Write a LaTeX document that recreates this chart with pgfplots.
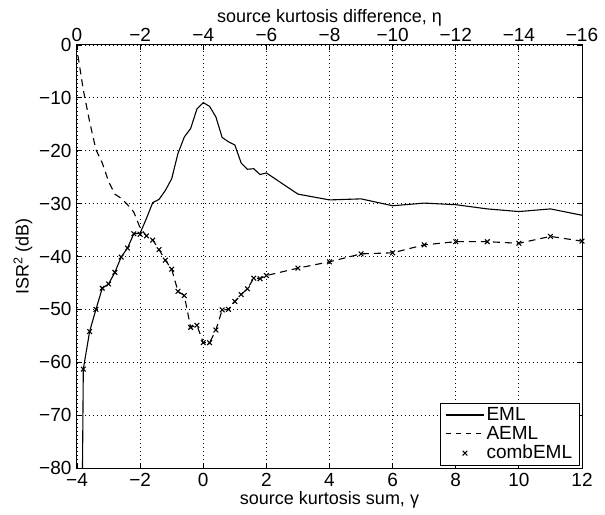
\documentclass[border=0pt]{standalone}
\usepackage{pgfplots}
\pgfplotsset{compat=1.18}
\usepackage{fontspec}
\setmainfont{Liberation Sans}
\pgfplotsset{
 lineleg/.style={legend image code/.code={\draw[##1] (0pt,0pt) -- (38pt,0pt);}},
 dashleg/.style={legend image code/.code={\draw[##1, dash pattern=on 5pt off 5pt] (0pt,0pt) -- (38pt,0pt);}},
 markleg/.style={legend image code/.code={\draw[mark repeat=2,mark phase=2,##1] plot coordinates {(0pt,0pt) (19pt,0pt) (38pt,0pt)};}},
}
\begin{document}
\fontsize{19}{22}\selectfont
\begin{tikzpicture}
\begin{axis}[
  name=ax,
  scale only axis, width=505pt, height=423pt,
  xmin=-4, xmax=12, ymin=-80, ymax=0,
  xtick={-4,-2,...,12}, ytick={-80,-70,...,0},
  xticklabels={−4,−2,0,2,4,6,8,10,12},
  yticklabels={−80,−70,−60,−50,−40,−30,−20,−10,0},
  xtick pos=bottom, ytick pos=both,
  tick align=inside, major tick length=5pt,
  grid=major, major grid style={black, line width=0.8pt, dash pattern=on 1pt off 3pt},
  axis line style={line width=1pt},
  every tick/.style={black, line width=0.8pt},
  tick label style={font=\fontsize{19}{22}\selectfont},
  label style={font=\fontsize{18}{21}\selectfont},
  xticklabel style={yshift=1pt},
  yticklabel style={xshift=1pt},
  xlabel={source kurtosis sum, γ},
  ylabel={ISR\textsuperscript{2} (dB)},
  xlabel style={yshift=8pt},
  ylabel style={yshift=-6pt},
  legend style={at={(0.995,0.005)}, anchor=south east, draw=black, line width=0.8pt, fill=white,
    font=\fontsize{19}{22}\selectfont, row sep=-1pt, inner xsep=5pt, inner ysep=2pt},
  legend cell align=left,
]
\addplot[black, line width=1.1pt, lineleg] coordinates {
(-3.84,-90) (-3.8,-61.3) (-3.6,-54.2) (-3.4,-50.0) (-3.2,-46.0) (-3.0,-45.2) (-2.8,-43.0)
(-2.6,-40.1) (-2.4,-38.4) (-2.2,-35.7) (-2.0,-35.6) (-1.8,-32.8) (-1.6,-29.8) (-1.4,-29.2)
(-1.2,-27.5) (-1.0,-25.3) (-0.8,-20.5) (-0.6,-17.4) (-0.4,-15.8) (-0.2,-12.1) (0.0,-10.9)
(0.2,-11.6) (0.4,-13.6) (0.6,-17.5) (0.8,-18.3) (1.0,-18.9) (1.2,-22.3) (1.4,-23.5)
(1.6,-23.4) (1.8,-24.5) (2.0,-24.2) (3.0,-28.2) (4.0,-29.3) (5.0,-29.1) (6.0,-30.4)
(7.0,-29.9) (8.0,-30.2) (9.0,-31.0) (10.0,-31.5) (11.0,-31.0) (12.0,-32.2)};
\addlegendentry{EML}
\addplot[black, line width=1.1pt, dash pattern=on 7pt off 5pt, dashleg] coordinates {
(-3.97,-2) (-3.8,-8.5) (-3.6,-14.5) (-3.4,-19.8) (-3.2,-22.3) (-3.0,-25.8) (-2.8,-28.2)
(-2.6,-29.0) (-2.4,-30.2) (-2.2,-31.6) (-2.0,-34.6) (-1.8,-36.1) (-1.6,-36.9) (-1.4,-38.7)
(-1.2,-40.7) (-1.0,-42.4) (-0.8,-46.6) (-0.6,-47.4) (-0.4,-53.4) (-0.2,-53.0) (0.0,-56.3)
(0.2,-56.3) (0.4,-53.9) (0.6,-50.1) (0.8,-50.0) (1.0,-48.5) (1.2,-47.2) (1.4,-46.1)
(1.6,-44.1) (1.8,-44.2) (2.0,-43.6) (3.0,-42.2) (4.0,-41.0) (5.0,-39.5) (6.0,-39.3)
(7.0,-37.8) (8.0,-37.2) (9.0,-37.2) (10.0,-37.5) (11.0,-36.2) (12.0,-37.1)};
\addlegendentry{AEML}
\addplot[black, only marks, mark=x, mark size=3.3pt, mark options={line width=1.1pt}, markleg] coordinates {
(-3.8,-61.3) (-3.6,-54.2) (-3.4,-50.0) (-3.2,-46.0) (-3.0,-45.2) (-2.8,-43.0)
(-2.6,-40.1) (-2.4,-38.4) (-2.2,-35.7) (-2.0,-35.8) (-1.8,-36.1) (-1.6,-36.9) (-1.4,-38.7)
(-1.2,-40.7) (-1.0,-42.4) (-0.8,-46.6) (-0.6,-47.4) (-0.4,-53.4) (-0.2,-53.0) (0.0,-56.3)
(0.2,-56.3) (0.4,-53.9) (0.6,-50.1) (0.8,-50.0) (1.0,-48.5) (1.2,-47.2) (1.4,-46.1)
(1.6,-44.1) (1.8,-44.2) (2.0,-43.6) (3.0,-42.2) (4.0,-41.0) (5.0,-39.5) (6.0,-39.3)
(7.0,-37.8) (8.0,-37.2) (9.0,-37.2) (10.0,-37.5) (11.0,-36.2) (12.0,-37.1)};
\addlegendentry{combEML}
\end{axis}
\begin{axis}[
  scale only axis, width=505pt, height=423pt,
  xmin=-4, xmax=12, ymin=-80, ymax=0,
  axis x line*=top, hide y axis,
  xtick={-4,-2,...,12},
  xticklabels={0,−2,−4,−6,−8,−10,−12,−14,−16},
  tick align=inside, major tick length=5pt,
  axis line style={line width=1pt},
  every tick/.style={black, line width=0.8pt},
  tick label style={font=\fontsize{19}{22}\selectfont},
  label style={font=\fontsize{18}{21}\selectfont},
  xticklabel style={yshift=-3pt},
  xlabel={source kurtosis difference, η},
  xlabel style={yshift=-11pt},
]
\addplot[draw=none] coordinates {(-4,-80) (12,0)};
\end{axis}
\path ([xshift=-77pt,yshift=-41pt]ax.south west) rectangle ([xshift=23pt,yshift=45pt]ax.north east);
\end{tikzpicture}
\end{document}
